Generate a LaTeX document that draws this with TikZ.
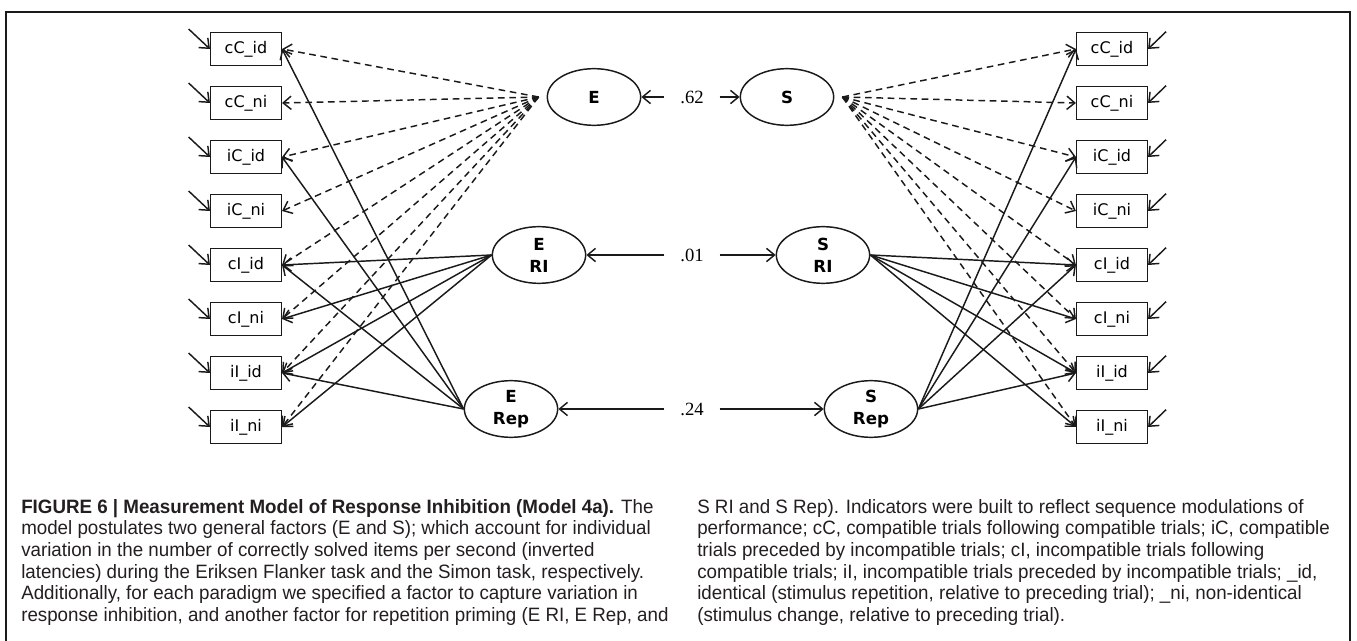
\documentclass[tikz,border=0pt]{standalone}
\usepackage{fontspec}
\setmainfont{Liberation Serif}
\setsansfont{DejaVu Sans}
\newfontfamily\capfont[FakeStretch=0.97]{Liberation Sans}
\usetikzlibrary{
  shapes.geometric,
  arrows.meta,
  positioning
}
\definecolor{darkline}{HTML}{1A1A1A}
\definecolor{captext}{HTML}{231F20}

\begin{document}
\begin{tikzpicture}[
    x=0.75pt, y=-0.75pt,
    node distance=15pt,
    every node/.style={font=\sffamily},
    obs/.style={rectangle, draw=darkline, line width=1.1pt, minimum width=53pt,
                minimum height=24.4pt, inner sep=0pt,
                font=\sffamily\fontsize{12}{14}\selectfont},
    latent/.style={ellipse, draw=darkline, line width=1.1pt, minimum width=70pt,
                   minimum height=42.5pt, inner sep=0pt, align=center,
                   font=\sffamily\bfseries\fontsize{12.5}{16.5}\selectfont},
    corr/.style={minimum width=41pt, inner sep=0pt,
                 font=\rmfamily\fontsize{14}{16}\selectfont},
    captxt/.style={anchor=north west, align=left, inner sep=0pt, captext,
                   font=\capfont\fontsize{14.5}{16.2}\selectfont},
    loadarrow/.style={-{Straight Barb[length=6pt, width=10pt]}, line width=1.1pt, darkline},
    dashload/.style={loadarrow, dash pattern=on 5pt off 3.5pt},
    errarrow/.style={loadarrow},
    covarrow/.style={loadarrow},
]
\useasboundingbox (0,0) rectangle (1357,641);

% --- frame ---
\draw[line width=1pt, darkline] (6,641) -- (6,12) -- (1350,12) -- (1350,641);

% --- Flanker indicators (left) ---
\node[obs] (lcCid) at (246,49) {cC\_id};
\node[obs, below=of lcCid] (lcCni) {cC\_ni};
\node[obs, below=of lcCni] (liCid) {iC\_id};
\node[obs, below=of liCid] (liCni) {iC\_ni};
\node[obs, below=of liCni] (lcIid) {cI\_id};
\node[obs, below=of lcIid] (lcIni) {cI\_ni};
\node[obs, below=of lcIni] (liIid) {iI\_id};
\node[obs, below=of liIid] (liIni) {iI\_ni};

% --- Simon indicators (right) ---
\node[obs] (rcCid) at (1112,49) {cC\_id};
\node[obs, below=of rcCid] (rcCni) {cC\_ni};
\node[obs, below=of rcCni] (riCid) {iC\_id};
\node[obs, below=of riCid] (riCni) {iC\_ni};
\node[obs, below=of riCni] (rcIid) {cI\_id};
\node[obs, below=of rcIid] (rcIni) {cI\_ni};
\node[obs, below=of rcIni] (riIid) {iI\_id};
\node[obs, below=of riIid] (riIni) {iI\_ni};

% --- Latent factors ---
\node[latent] (E) at (594,97) {E};
\node[latent] (S) at (787,97) {S};
\node[latent] (ERI) at (539,255) {E\\RI};
\node[latent] (SRI) at (823,255) {S\\RI};
\node[latent] (ERep) at (511,409) {E\\Rep};
\node[latent] (SRep) at (871,409) {S\\Rep};

\coordinate[left=6pt of E.west] (Eo);
\coordinate[right=6pt of S.east] (So);

% --- Correlations ---
\node[corr] (l62) at (692,97) {.62};
\node[corr] (l01) at (692,255) {.01};
\node[corr] (l24) at (692,409) {.24};
\draw[covarrow] (l62) -- (E);
\draw[covarrow] (l62) -- (S);
\draw[covarrow] (l01) -- (ERI);
\draw[covarrow] (l01) -- (SRI);
\draw[covarrow] (l24) -- (ERep);
\draw[covarrow] (l24) -- (SRep);

% --- Residuals ---
\draw[errarrow] (lcCid.west) ++(-16pt,15pt) -- (lcCid.west);
\draw[errarrow] (lcCni.west) ++(-16pt,15pt) -- (lcCni.west);
\draw[errarrow] (liCid.west) ++(-16pt,15pt) -- (liCid.west);
\draw[errarrow] (liCni.west) ++(-16pt,15pt) -- (liCni.west);
\draw[errarrow] (lcIid.west) ++(-16pt,15pt) -- (lcIid.west);
\draw[errarrow] (lcIni.west) ++(-16pt,15pt) -- (lcIni.west);
\draw[errarrow] (liIid.west) ++(-16pt,15pt) -- (liIid.west);
\draw[errarrow] (liIni.west) ++(-16pt,15pt) -- (liIni.west);
\draw[errarrow] (rcCid.east) ++(13.5pt,13pt) -- (rcCid.east);
\draw[errarrow] (rcCni.east) ++(13.5pt,13pt) -- (rcCni.east);
\draw[errarrow] (riCid.east) ++(13.5pt,13pt) -- (riCid.east);
\draw[errarrow] (riCni.east) ++(13.5pt,13pt) -- (riCni.east);
\draw[errarrow] (rcIid.east) ++(13.5pt,13pt) -- (rcIid.east);
\draw[errarrow] (rcIni.east) ++(13.5pt,13pt) -- (rcIni.east);
\draw[errarrow] (riIid.east) ++(13.5pt,13pt) -- (riIid.east);
\draw[errarrow] (riIni.east) ++(13.5pt,13pt) -- (riIni.east);

% --- General factor E (dashed) ---
\draw[dashload] (Eo) -- (lcCid.east);
\draw[dashload] (Eo) -- (lcCni.east);
\draw[dashload] (Eo) -- (liCid.east);
\draw[dashload] (Eo) -- (liCni.east);
\draw[dashload] (Eo) -- (lcIid.east);
\draw[dashload] (Eo) -- (lcIni.east);
\draw[dashload] (Eo) -- (liIid.east);
\draw[dashload] (Eo) -- (liIni.east);

% --- General factor S (dashed) ---
\draw[dashload] (So) -- (rcCid.west);
\draw[dashload] (So) -- (rcCni.west);
\draw[dashload] (So) -- (riCid.west);
\draw[dashload] (So) -- (riCni.west);
\draw[dashload] (So) -- (rcIid.west);
\draw[dashload] (So) -- (rcIni.west);
\draw[dashload] (So) -- (riIid.west);
\draw[dashload] (So) -- (riIni.west);

% --- Response inhibition factors ---
\draw[loadarrow] (ERI.west) -- (lcIid.east);
\draw[loadarrow] (ERI.west) -- (lcIni.east);
\draw[loadarrow] (ERI.west) -- (liIid.east);
\draw[loadarrow] (ERI.west) -- (liIni.east);
\draw[loadarrow] (SRI.east) -- (rcIid.west);
\draw[loadarrow] (SRI.east) -- (rcIni.west);
\draw[loadarrow] (SRI.east) -- (riIid.west);
\draw[loadarrow] (SRI.east) -- (riIni.west);

% --- Repetition priming factors ---
\draw[loadarrow] (ERep.west) -- (lcCid.east);
\draw[loadarrow] (ERep.west) -- (liCid.east);
\draw[loadarrow] (ERep.west) -- (lcIid.east);
\draw[loadarrow] (ERep.west) -- (liIid.east);
\draw[loadarrow] (SRep.east) -- (rcCid.west);
\draw[loadarrow] (SRep.east) -- (riCid.west);
\draw[loadarrow] (SRep.east) -- (rcIid.west);
\draw[loadarrow] (SRep.east) -- (riIid.west);

% --- Caption ---
\node[captxt] (capleft) at (21,499) {\textbf{FIGURE 6 | Measurement Model of Response Inhibition (Model 4a).} The\\
model postulates two general factors (E and S); which account for individual\\
variation in the number of correctly solved items per second (inverted\\
latencies) during the Eriksen Flanker task and the Simon task, respectively.\\
Additionally, for each paradigm we specified a factor to capture variation in\\
response inhibition, and another factor for repetition priming (E RI, E Rep, and};
\node[captxt] (capright) at (697,499) {S RI and S Rep). Indicators were built to reflect sequence modulations of\\
performance; cC, compatible trials following compatible trials; iC, compatible\\
trials preceded by incompatible trials; cI, incompatible trials following\\
compatible trials; iI, incompatible trials preceded by incompatible trials; \_id,\\
identical (stimulus repetition, relative to preceding trial); \_ni, non-identical\\
(stimulus change, relative to preceding trial).};

\end{tikzpicture}
\end{document}
